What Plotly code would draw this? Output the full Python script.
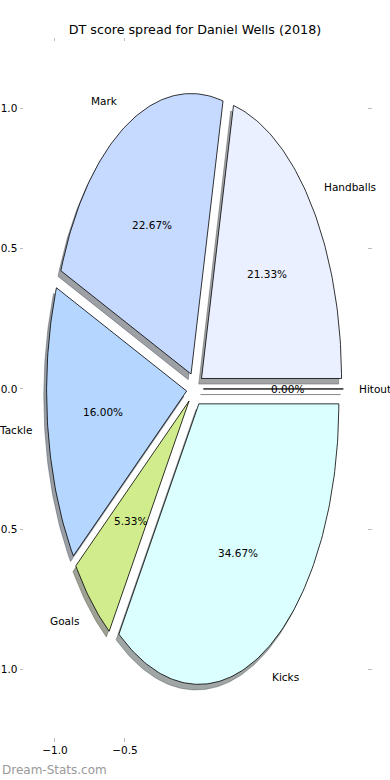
import numpy as np
import plotly.graph_objects as go

# ---- data ----
labels = ["Hitout", "Handballs", "Mark", "Tackle", "Goals", "Kicks"]
values = [0, 16, 17, 12, 4, 26]
colors = ["#f0f0f0", "#eaf0ff", "#c6d9ff", "#b5d7ff", "#d0ec8c", "#dbffff"]
explode = [0.06, 0.06, 0.06, 0.06, 0.06, 0.06]
title_text = "DT score spread for Daniel Wells (2018)"
xtick_vals = [-1.0, -0.5]
ytick_vals = [1.0, 0.5, 0.0, -0.5, -1.0]
watermark = "Dream-Stats.com"

# ---- geometry (like matplotlib pie: start 0deg, counterclockwise) ----
SHADOW = -0.02
LABEL_DIST = 1.1
PCT_DIST = 0.6
FONT = "DejaVu Sans"
TXT = 10.5

total = float(sum(values))
fracs = [v / total for v in values]


def hex_to_rgb(h):
    h = h.lstrip("#")
    return tuple(int(h[i:i + 2], 16) for i in (0, 2, 4))


shadow_traces = []
wedge_traces = []
annotations = []
theta = 0.0
for lab, frac, col, ex in zip(labels, fracs, colors, explode):
    t1 = theta
    t2 = theta + 360.0 * frac
    mid = np.deg2rad((t1 + t2) / 2.0)
    cx = ex * np.cos(mid)
    cy = ex * np.sin(mid)
    n = max(2, int(abs(t2 - t1)) + 2)
    ts = np.deg2rad(np.linspace(t1, t2, n))
    xs = np.concatenate([[cx], cx + np.cos(ts), [cx]])
    ys = np.concatenate([[cy], cy + np.sin(ts), [cy]])
    r, g, b = hex_to_rgb(col)
    scol = "rgba(%d,%d,%d,0.5)" % (int(0.3 * r), int(0.3 * g), int(0.3 * b))
    shadow_traces.append(go.Scatter(
        x=xs + SHADOW, y=ys + SHADOW, mode="lines", fill="toself",
        fillcolor=scol, line=dict(color=scol, width=0.8),
        hoverinfo="skip", showlegend=False))
    wedge_traces.append(go.Scatter(
        x=xs, y=ys, mode="lines", fill="toself", fillcolor=col,
        line=dict(color="black", width=0.8), hoverinfo="skip",
        showlegend=False, name=lab))
    lx = cx + LABEL_DIST * np.cos(mid)
    ly = cy + LABEL_DIST * np.sin(mid)
    annotations.append(dict(
        x=lx, y=ly, xref="x", yref="y", text=lab, showarrow=False,
        xanchor="left" if lx > 0 else "right", yanchor="middle",
        font=dict(family=FONT, size=TXT, color="black")))
    px = cx + PCT_DIST * np.cos(mid)
    py = cy + PCT_DIST * np.sin(mid)
    annotations.append(dict(
        x=px, y=py, xref="x", yref="y", text="%.2f%%" % (100 * frac),
        showarrow=False, xanchor="center", yanchor="middle",
        font=dict(family=FONT, size=TXT, color="black")))
    theta = t2

annotations.append(dict(
    x=-0.07, y=-0.0475, xref="paper", yref="paper", text=watermark,
    showarrow=False, xanchor="left", yanchor="middle",
    font=dict(family=FONT, size=12, color="#999999")))

fig = go.Figure(shadow_traces + wedge_traces)

axis_common = dict(
    showgrid=False, zeroline=False, showline=False, ticks="outside",
    ticklen=3.5, tickwidth=1, tickcolor="#bdbdbd", mirror="ticks",
    tickformat=".1f", tickfont=dict(family=FONT, size=TXT, color="black"),
    automargin=False, fixedrange=True)

fig.update_layout(
    width=390, height=780,
    margin=dict(l=24, r=23, t=42, b=43),
    paper_bgcolor="white", plot_bgcolor="white",
    title=dict(text=title_text, x=0.5, xref="container", xanchor="center",
               y=1 - 30 / 780, yref="container", yanchor="middle",
               font=dict(family=FONT, size=12.7, color="black")),
    xaxis=dict(range=[-1.221, 1.229], tickvals=xtick_vals, **axis_common),
    yaxis=dict(range=[-1.241, 1.237], tickvals=ytick_vals, **axis_common),
    annotations=annotations,
    showlegend=False,
)

fig.write_html("out.html", config={"displayModeBar": False},
               post_script="document.body.style.margin='0';")
